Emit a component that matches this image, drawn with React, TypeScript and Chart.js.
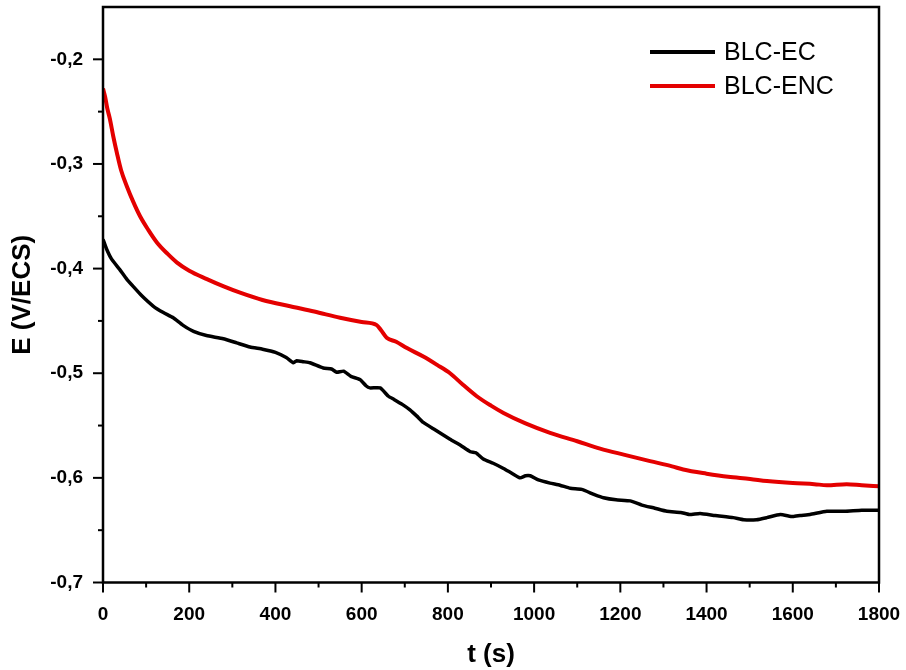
import React, { useEffect, useRef } from "react";
import { Chart, registerables } from "chart.js";

Chart.register(...registerables);

// BLC-EC (black)
const ecTime = [0, 8, 20, 39, 55, 70, 90, 117, 140, 163, 185, 210, 240, 279, 310, 341, 370, 400, 425, 442, 449, 465, 480, 511, 530, 542, 558, 575, 596, 610, 619, 643, 662, 675, 695, 712, 728, 743, 770, 805, 830, 852, 865, 882, 905, 929, 950, 968, 980, 991, 1010, 1037, 1060, 1084, 1110, 1140, 1161, 1190, 1223, 1250, 1280, 1308, 1340, 1360, 1385, 1420, 1462, 1486, 1516, 1540, 1571, 1600, 1617, 1640, 1679, 1720, 1760, 1800];
const ecPotential = [-0.372, -0.381, -0.391, -0.401, -0.41, -0.417, -0.426, -0.436, -0.442, -0.447, -0.454, -0.46, -0.464, -0.467, -0.471, -0.475, -0.477, -0.48, -0.485, -0.49, -0.488, -0.489, -0.49, -0.495, -0.496, -0.499, -0.498, -0.503, -0.506, -0.512, -0.514, -0.514, -0.522, -0.525, -0.53, -0.535, -0.541, -0.547, -0.554, -0.563, -0.569, -0.575, -0.576, -0.582, -0.586, -0.591, -0.596, -0.6, -0.598, -0.598, -0.602, -0.605, -0.607, -0.61, -0.611, -0.616, -0.619, -0.621, -0.622, -0.626, -0.629, -0.632, -0.633, -0.635, -0.634, -0.636, -0.638, -0.64, -0.64, -0.638, -0.635, -0.637, -0.636, -0.635, -0.632, -0.632, -0.631, -0.631];

// BLC-ENC (red)
const encTime = [0, 5, 10, 16, 24, 32, 42, 55, 70, 86, 105, 125, 150, 171, 200, 241, 280, 318, 370, 434, 490, 550, 600, 635, 645, 658, 680, 705, 743, 775, 805, 835, 867, 900, 929, 980, 1037, 1100, 1153, 1210, 1269, 1320, 1346, 1400, 1450, 1501, 1540, 1600, 1650, 1679, 1725, 1760, 1800];
const encPotential = [-0.228, -0.236, -0.247, -0.257, -0.274, -0.289, -0.306, -0.321, -0.336, -0.35, -0.363, -0.375, -0.386, -0.394, -0.402, -0.41, -0.417, -0.423, -0.43, -0.436, -0.441, -0.447, -0.451, -0.454, -0.459, -0.466, -0.47, -0.476, -0.484, -0.492, -0.5, -0.511, -0.522, -0.531, -0.538, -0.548, -0.557, -0.565, -0.572, -0.578, -0.584, -0.589, -0.592, -0.596, -0.599, -0.601, -0.603, -0.605, -0.606, -0.607, -0.606, -0.607, -0.608];

const seriesLabels = ["BLC-EC", "BLC-ENC"];
const seriesColors = ["#000000", "rgb(228,0,0)"];

const X_MIN = 0, X_MAX = 1800, X_STEP = 100, X_MAJOR = 200;
const Y_MIN = -0.7, Y_MAX = -0.15, Y_STEP = 0.05;

const FONT = "'Liberation Sans', Arial, sans-serif";

const isMajorX = (v: number) => Math.round(v) % X_MAJOR === 0;
const isMajorY = (v: number) => Math.round(v * 100) % 10 === 0;

const framePlugin = {
  id: "frameTicksLegend",
  afterDraw(chart: any) {
    const { ctx, chartArea } = chart;
    const { left, right, top, bottom } = chartArea;
    const xs = chart.scales.x;
    const ys = chart.scales.y;
    ctx.save();
    ctx.strokeStyle = "#000";
    ctx.lineWidth = 2;
    ctx.lineCap = "butt";
    xs.ticks.forEach((t: any) => {
      const px = xs.getPixelForValue(t.value);
      const len = isMajorX(t.value) ? 10 : 5;
      ctx.beginPath();
      ctx.moveTo(px, bottom);
      ctx.lineTo(px, bottom + len);
      ctx.stroke();
    });
    ys.ticks.forEach((t: any) => {
      const py = ys.getPixelForValue(t.value);
      if (py < top + 2) return;
      const len = isMajorY(t.value) ? 10 : 5;
      ctx.beginPath();
      ctx.moveTo(left, py);
      ctx.lineTo(left - len, py);
      ctx.stroke();
    });
    ctx.lineWidth = 2.5;
    ctx.strokeRect(left, top, right - left, bottom - top);

    // legend
    ctx.font = `25px ${FONT}`;
    ctx.textBaseline = "middle";
    ctx.textAlign = "left";
    chart.data.datasets.forEach((ds: any, i: number) => {
      const ly = top + 45 + i * 34;
      ctx.strokeStyle = ds.borderColor;
      ctx.lineWidth = 4;
      ctx.beginPath();
      ctx.moveTo(right - 229, ly);
      ctx.lineTo(right - 164, ly);
      ctx.stroke();
      ctx.fillStyle = "#000";
      ctx.fillText(ds.label, right - 155, ly + 1);
    });
    ctx.restore();
  },
};

export default function App() {
  const canvasRef = useRef<HTMLCanvasElement | null>(null);

  useEffect(() => {
    if (!canvasRef.current) return;
    const chart = new Chart(canvasRef.current, {
      type: "line",
      data: {
        datasets: [
          {
            label: seriesLabels[0],
            data: ecTime.map((t, i) => ({ x: t, y: ecPotential[i] })),
            borderColor: seriesColors[0],
            borderWidth: 3.5,
            pointRadius: 0,
            tension: 0.15,
          },
          {
            label: seriesLabels[1],
            data: encTime.map((t, i) => ({ x: t, y: encPotential[i] })),
            borderColor: seriesColors[1],
            borderWidth: 4,
            pointRadius: 0,
            cubicInterpolationMode: "monotone",
          },
        ],
      },
      options: {
        animation: false,
        responsive: true,
        maintainAspectRatio: false,
        layout: { padding: { top: 7, right: 27, left: 0, bottom: 0 } },
        plugins: { legend: { display: false }, tooltip: { enabled: false } },
        scales: {
          x: {
            type: "linear",
            min: X_MIN,
            max: X_MAX,
            grid: { display: true, drawOnChartArea: false, color: "rgba(0,0,0,0)", tickLength: 10 },
            border: { display: false },
            ticks: {
              stepSize: X_STEP,
              autoSkip: false,
              maxRotation: 0,
              padding: 11,
              color: "#000",
              font: { family: FONT, size: 19, weight: "bold" },
              callback: (v: any) => (isMajorX(Number(v)) ? String(Math.round(Number(v))) : ""),
            },
            title: {
              display: true,
              text: "t (s)",
              color: "#000",
              font: { family: FONT, size: 26, weight: "bold" },
              padding: { top: 0, bottom: 0 },
            },
            afterFit: (s: any) => {
              s.height = 87.5;
              s.paddingLeft = 0;
              s.paddingRight = 0;
            },
          },
          y: {
            type: "linear",
            min: Y_MIN,
            max: Y_MAX,
            grid: { display: true, drawOnChartArea: false, color: "rgba(0,0,0,0)", tickLength: 10 },
            border: { display: false },
            ticks: {
              stepSize: Y_STEP,
              autoSkip: false,
              padding: 10,
              color: "#000",
              font: { family: FONT, size: 19, weight: "bold" },
              callback: (v: any) => {
                const n = Number(v);
                if (!isMajorY(n)) return "";
                return (Math.round(n * 10) / 10).toFixed(1).replace(".", ",");
              },
            },
            title: {
              display: true,
              text: "E (V/ECS)",
              color: "#000",
              font: { family: FONT, size: 26, weight: "bold" },
              padding: { top: 7, bottom: 0 },
            },
            afterFit: (s: any) => {
              s.width = 103;
              s.paddingTop = 0;
              s.paddingBottom = 0;
            },
          },
        },
      },
      plugins: [framePlugin],
    } as any);
    return () => chart.destroy();
  }, []);

  return (
    <div style={{ position: "fixed", left: 0, top: 0, width: 906, height: 670, background: "#fff" }}>
      <canvas ref={canvasRef} />
    </div>
  );
}
